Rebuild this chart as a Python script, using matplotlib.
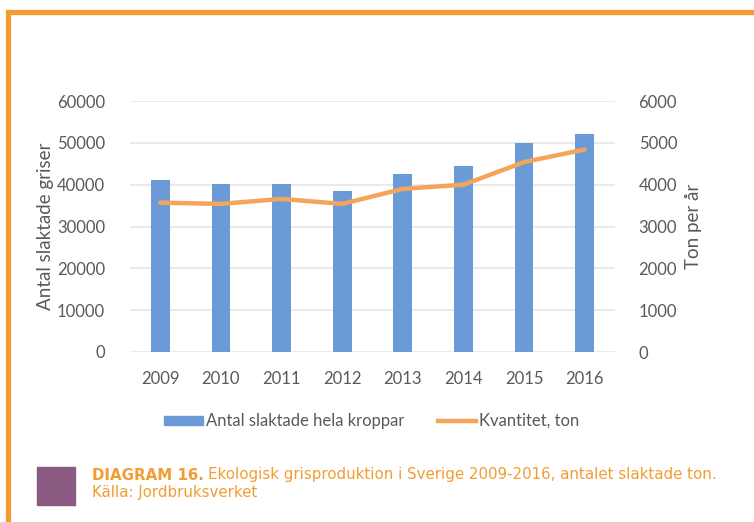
import matplotlib
matplotlib.use('Agg')
import matplotlib.pyplot as plt
from matplotlib.lines import Line2D
from matplotlib.patches import Patch, Rectangle

# data
years = ['2009', '2010', '2011', '2012', '2013', '2014', '2015', '2016']
slaktade = [41200, 40200, 40200, 38600, 42500, 44400, 49900, 52100]
kvantitet = [3570, 3540, 3660, 3540, 3900, 4000, 4540, 4840]

left_ticks = [0, 10000, 20000, 30000, 40000, 50000, 60000]
right_ticks = [0, 1000, 2000, 3000, 4000, 5000, 6000]

blue = '#6A9BD6'
orange_line = '#F5A55A'
frame_orange = '#F39C33'
purple = '#8B5A82'
grey = '#595959'

plt.rcParams['font.family'] = ['Lato', 'DejaVu Sans']

W, H = 754, 522
fig = plt.figure(figsize=(W / 100, H / 100), dpi=100)

# orange frame (left + top)
fig.add_artist(Line2D([8 / W, 8 / W, 1.0], [0.0, 1 - 11.5 / H, 1 - 11.5 / H],
                      transform=fig.transFigure, color=frame_orange, lw=3.8,
                      solid_joinstyle='miter'))

ax = fig.add_axes([130 / W, (H - 352) / H, 485 / W, 251 / H])
x = list(range(len(years)))
ax.bar(x, slaktade, width=0.31, color=blue, zorder=2)
ax.set_xlim(-0.5, 7.5)
ax.set_ylim(0, 60000)
ax.set_yticks(left_ticks)
ax.set_xticks(x)
ax.set_xticklabels(years)
ax.grid(axis='y', color='#E6E6E6', lw=1.2, zorder=0)
for s in ax.spines.values():
    s.set_visible(False)
ax.tick_params(length=0, labelsize=12, colors=grey)
ax.tick_params(axis='y', pad=18)
ax.tick_params(axis='x', pad=14)
ax.set_ylabel('Antal slaktade griser', fontsize=13.5, color=grey, labelpad=2)

ax2 = ax.twinx()
ax2.plot(x, kvantitet, color=orange_line, lw=3.2, zorder=3, solid_capstyle='round')
ax2.set_ylim(0, 6000)
ax2.set_yticks(right_ticks)
for s in ax2.spines.values():
    s.set_visible(False)
ax2.tick_params(length=0, labelsize=12, colors=grey, pad=17)
ax2.set_ylabel('Ton per år', fontsize=13.5, color=grey, labelpad=6)

handles = [Patch(color=blue), Line2D([], [], color=orange_line, lw=3.2)]
fig.legend(handles, ['Antal slaktade hela kroppar', 'Kvantitet, ton'],
           loc='center', bbox_to_anchor=(372 / W, 1 - 421 / H), ncol=2,
           frameon=False, fontsize=12, labelcolor=grey, handlelength=2.3,
           handleheight=0.45, handletextpad=0.2, columnspacing=2.0)

# caption
fig.add_artist(Rectangle((37 / W, 1 - 505 / H), 38 / W, 38 / H,
                         transform=fig.transFigure, color=purple))
t1 = fig.text(92 / W, 1 - 475 / H, 'DIAGRAM 16.', fontsize=10.8, fontweight='bold',
              color=frame_orange, va='center', family='DejaVu Sans')
fig.canvas.draw()
bb = t1.get_window_extent()
fig.text(bb.x1 / W + 4 / W, 1 - 475 / H,
         'Ekologisk grisproduktion i Sverige 2009-2016, antalet slaktade ton.',
         fontsize=10.8, color=frame_orange, va='center', family='DejaVu Sans')
fig.text(92 / W, 1 - 493 / H, 'Källa: Jordbruksverket', fontsize=10.8,
         color=frame_orange, va='center', family='DejaVu Sans')

fig.savefig('out.png', dpi=100)
